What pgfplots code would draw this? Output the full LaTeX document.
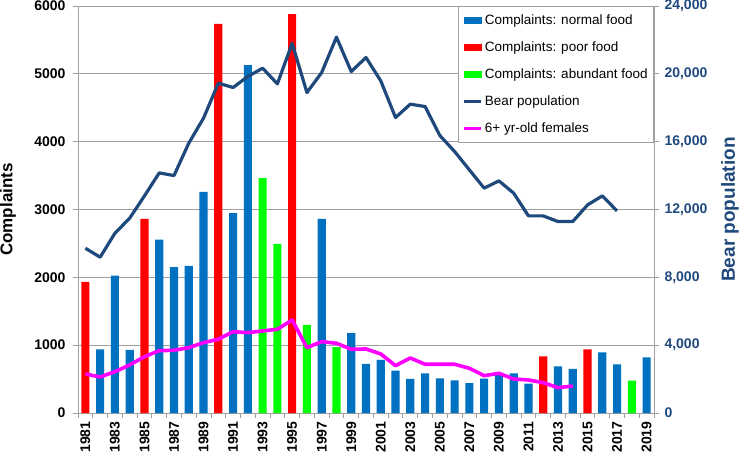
\documentclass[border=0pt]{standalone}
\usepackage{fontspec}
\setmainfont{Liberation Sans}
\usepackage{pgfplots}
\pgfplotsset{compat=1.18}
\definecolor{cblue}{HTML}{0070C0}
\definecolor{cred}{HTML}{FF0000}
\definecolor{cgreen}{HTML}{00FF00}
\definecolor{cnavy}{HTML}{1F497D}
\definecolor{cmag}{HTML}{FF00FF}
\definecolor{cgrid}{HTML}{A0A0A0}
\begin{document}
\begin{tikzpicture}
\useasboundingbox (-78pt,-43pt) rectangle (662pt,413pt);
\begin{axis}[
  scale only axis, width=576pt, height=407pt,
  xmin=1980.5, xmax=2019.5, ymin=0, ymax=6000,
  xtick={1981,1983,...,2019},
  minor xtick={1980.5,1981.5,...,2019.5},
  ytick={0,1000,...,6000},
  xtick pos=left, ytick pos=left,
  tick align=outside,
  major tick length=5pt, minor tick length=5pt,
  major x tick style={draw=none},
  tick style={cgrid, line width=0.8pt},
  ymajorgrids, grid style={cgrid, line width=0.8pt},
  axis line style={cgrid, line width=0.8pt},
  scaled y ticks=false,
  /pgf/number format/assume math mode=true,
  /pgf/number format/1000 sep={},
  xticklabel style={rotate=90, anchor=east, font=\fontsize{14}{14}\selectfont\bfseries},
  yticklabel style={font=\fontsize{14}{14}\selectfont\bfseries, xshift=-4pt},
  ylabel={Complaints},
  ylabel style={font=\fontsize{17}{17}\selectfont\bfseries, at={(axis description cs:-0.1215,0.5)}, anchor=center},
]
\addplot[ybar, bar width=0.55, bar shift=0pt, fill=cblue, draw=none] coordinates {
(1982,939) (1983,2025) (1984,929) (1986,2556) (1987,2149) (1988,2168) (1989,3260)
(1991,2945) (1992,5128) (1997,2861) (1999,1178) (2000,723) (2001,782) (2002,624)
(2003,504) (2004,583) (2005,512) (2006,482) (2007,442) (2008,506) (2009,565)
(2010,585) (2011,433) (2013,688) (2014,649) (2016,895) (2017,718) (2019,821)};
\addplot[ybar, bar width=0.55, bar shift=0pt, fill=cred, draw=none] coordinates {
(1981,1932) (1985,2861) (1990,5737) (1995,5880) (2012,836) (2015,939)};
\addplot[ybar, bar width=0.55, bar shift=0pt, fill=cgreen, draw=none] coordinates {
(1993,3462) (1994,2493) (1996,1298) (1998,970) (2018,477)};
\end{axis}
\begin{axis}[
  scale only axis, width=576pt, height=407pt,
  xmin=1980.5, xmax=2019.5, ymin=0, ymax=24000,
  axis x line=none, axis y line*=right,
  ytick={0,4000,...,24000},
  ytick pos=right,
  scaled y ticks=false,
  tick align=outside, major tick length=5pt,
  tick style={cgrid, line width=0.8pt},
  axis line style={cgrid, line width=0.8pt},
  /pgf/number format/assume math mode=true,
  /pgf/number format/1000 sep={,},
  yticklabel style={font=\fontsize{14}{14}\selectfont\bfseries, text=cnavy, xshift=2pt},
  ylabel={Bear population},
  ylabel style={font=\fontsize{19}{19}\selectfont\bfseries, text=cnavy, at={(axis description cs:1.132,0.5)}, anchor=center},
  legend style={at={(1,1)}, anchor=north east, draw=cgrid, line width=0.8pt, fill=white,
    font=\fontsize{13.5}{15}\selectfont, nodes={inner ysep=7.8pt}, row sep=0pt, inner xsep=4pt, inner ysep=1pt},
  legend cell align=left,
]
\addlegendimage{legend image code/.code={\fill[cblue] (0pt,-3pt) rectangle (17pt,3pt);}}
\addlegendentry{Complaints: normal food}
\addlegendimage{legend image code/.code={\fill[cred] (0pt,-3pt) rectangle (17pt,3pt);}}
\addlegendentry{Complaints: poor food}
\addlegendimage{legend image code/.code={\fill[cgreen] (0pt,-3pt) rectangle (17pt,3pt);}}
\addlegendentry{Complaints: abundant food}
\addplot[cnavy, line width=3.2pt, line join=round, mark=none] coordinates {
(1981,9717) (1982,9186) (1983,10602) (1984,11487) (1985,12802) (1986,14159)
(1987,14000) (1988,15910) (1989,17386) (1990,19450) (1991,19194) (1992,19843)
(1993,20334) (1994,19410) (1995,21800) (1996,18897) (1997,20077) (1998,22163)
(1999,20136) (2000,20962) (2001,19587) (2002,17423) (2003,18210) (2004,18073)
(2005,16362) (2006,15419) (2007,14336) (2008,13257) (2009,13687) (2010,12962)
(2011,11623) (2012,11623) (2013,11289) (2014,11289) (2015,12271) (2016,12802)
(2017,11917)};
\addlegendentry{Bear population}
\addplot[cmag, line width=3.6pt, line join=round, mark=none] coordinates {
(1981,2301) (1982,2124) (1983,2437) (1984,2832) (1985,3322) (1986,3676)
(1987,3699) (1988,3853) (1989,4148) (1990,4348) (1991,4796) (1992,4737)
(1993,4838) (1994,4938) (1995,5487) (1996,3853) (1997,4207) (1998,4112)
(1999,3758) (2000,3776) (2001,3481) (2002,2791) (2003,3245) (2004,2873)
(2005,2873) (2006,2873) (2007,2637) (2008,2200) (2009,2342) (2010,2006)
(2011,1947) (2012,1788) (2013,1493) (2014,1593)};
\addlegendentry{6+ yr-old females}
\end{axis}
\end{tikzpicture}
\end{document}
